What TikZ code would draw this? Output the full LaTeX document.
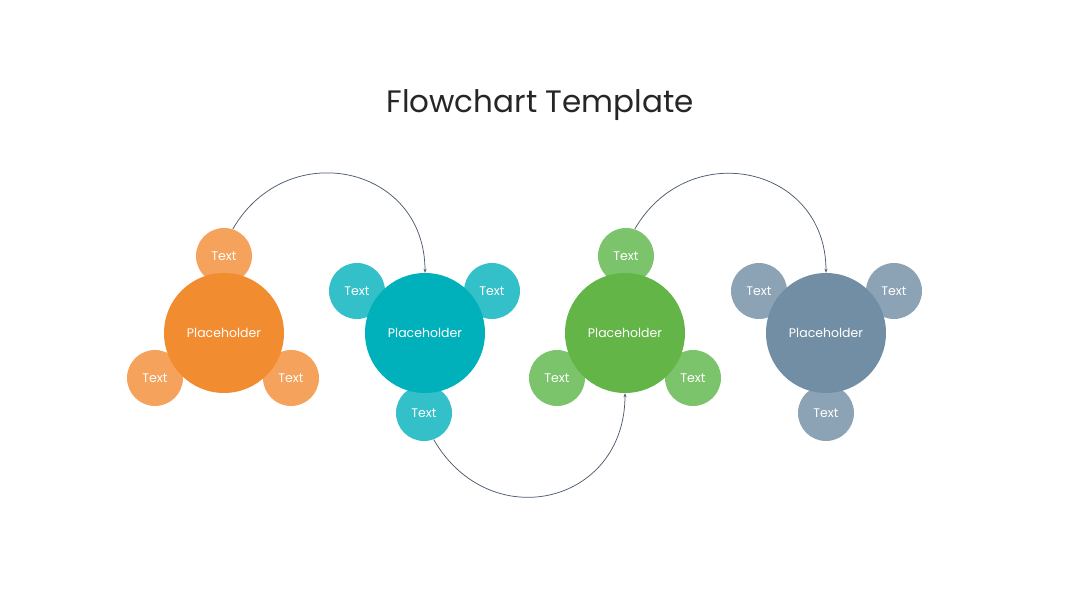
\documentclass[tikz,border=0pt]{standalone}
\usepackage{fontspec}
\setmainfont{Poppins}
\usetikzlibrary{arrows.meta}

\definecolor{orangeA}{HTML}{F28C30}
\definecolor{orangeB}{HTML}{F4A25C}
\definecolor{tealA}{HTML}{00B1BB}
\definecolor{tealB}{HTML}{33C0C8}
\definecolor{greenA}{HTML}{62B546}
\definecolor{greenB}{HTML}{7CC46B}
\definecolor{slateA}{HTML}{728EA4}
\definecolor{slateB}{HTML}{8CA3B6}
\definecolor{linkc}{HTML}{4D5B6E}

\begin{document}
\begin{tikzpicture}[
  x=1pt, y=1pt,
  hub/.style  ={circle, inner sep=0pt, minimum size=120pt, text=white,
                font=\fontsize{12.5}{14}\selectfont},
  leaf/.style ={circle, inner sep=0pt, minimum size=56pt, text=white,
                font=\fontsize{12.5}{14}\selectfont},
  link/.style ={-{Stealth[length=4pt,width=3pt]}, linkc, line width=0.75pt},
]
\useasboundingbox (0,0) rectangle (1080,608);

% ================= title =================
\node[font=\fontsize{31}{36}\selectfont, text=black!85] (title) at (540,503)
  {Flowchart Template};

% ================= leaves (behind the hubs) =================
\node[leaf, fill=orangeB] (aT)  at (224,352) {Text};
\node[leaf, fill=orangeB] (aL)  at (155,230) {Text};
\node[leaf, fill=orangeB] (aR)  at (291,230) {Text};

\node[leaf, fill=tealB]   (bL)  at (357,317) {Text};
\node[leaf, fill=tealB]   (bR)  at (492,317) {Text};
\node[leaf, fill=tealB]   (bB)  at (424,195) {Text};

\node[leaf, fill=greenB]  (cT)  at (626,352) {Text};
\node[leaf, fill=greenB]  (cL)  at (557,230) {Text};
\node[leaf, fill=greenB]  (cR)  at (693,230) {Text};

\node[leaf, fill=slateB]  (dL)  at (759,317) {Text};
\node[leaf, fill=slateB]  (dR)  at (894,317) {Text};
\node[leaf, fill=slateB]  (dB)  at (826,195) {Text};

% ================= hubs =================
\node[hub, fill=orangeA] (hubA) at (224,275) {Placeholder};
\node[hub, fill=tealA]   (hubB) at (425,275) {Placeholder};
\node[hub, fill=greenA]  (hubC) at (625,275) {Placeholder};
\node[hub, fill=slateA]  (hubD) at (826,275) {Placeholder};

% ================= links =================
\draw[link] (aT.72) to[out=60, in=90, looseness=1.4] (hubB.north);
\draw[link] (bB.-70) to[out=-60, in=-90, looseness=1.45] (hubC.south);
\draw[link] (cT.72) to[out=60, in=90, looseness=1.4] (hubD.north);

\end{tikzpicture}
\end{document}
